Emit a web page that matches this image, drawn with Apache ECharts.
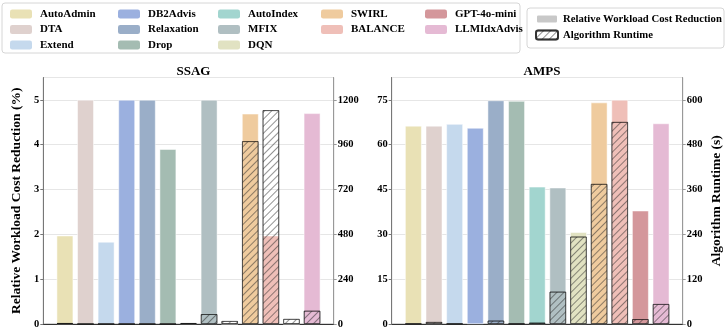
<!DOCTYPE html>
<html>
<head>
<meta charset="utf-8">
<script src="https://cdn.jsdelivr.net/npm/echarts@6/dist/echarts.min.js"></script>
<style>
body { margin: 0; background: #fff; }
#main { width: 726px; height: 334px; }
</style>
</head>
<body>
<div id="main"></div>
<script>
var methods = ['AutoAdmin', 'DTA', 'Extend', 'DB2Advis', 'Relaxation', 'Drop', 'AutoIndex',
	'MFIX', 'DQN', 'SWIRL', 'BALANCE', 'GPT-4o-mini', 'LLMIdxAdvis'];
var colors = ['#e9e1b5', '#dfd1ce', '#c5d9ed', '#9bb0df', '#9aaec8', '#a4bcb2', '#a2d5cf',
	'#b0bfc2', '#e1e2c2', '#efcb9e', '#efbfb8', '#d4979b', '#e5bad4'];

// SSAG panel
var ssagCost = [1.97, 5.0, 1.83, 5.0, 5.0, 3.90, 0.02, 5.0, 0, 4.69, 1.97, 0, 4.70];
var ssagTime = [5, 1, 1, 1, 1, 1, 5, 53, 16, 979, 1145, 27, 71];
// AMPS panel
var ampsCost = [66.3, 66.3, 66.9, 65.6, 74.8, 74.6, 45.9, 45.6, 30.7, 74.1, 75.0, 37.9, 67.1];
var ampsTime = [1, 5.4, 1, null, 9, 1, 3.6, 86.5, 234, 375, 541, 13, 53.5];

var legendCols = [['AutoAdmin', 'DTA', 'Extend'], ['DB2Advis', 'Relaxation', 'Drop'],
	['AutoIndex', 'MFIX', 'DQN'], ['SWIRL', 'BALANCE'], ['GPT-4o-mini', 'LLMIdxAdvis']];
var legendLefts = [5, 113, 213, 316, 420];

var font = "'Liberation Serif', 'Times New Roman', serif";
var hatch = {
	symbol: 'rect', symbolSize: 1, color: 'rgba(40,40,40,0.5)',
	dashArrayX: [1, 0], dashArrayY: [1, 4], rotation: -Math.PI / 4
};

function costSeries(vals, idx) {
	return {
		name: 'Relative Workload Cost Reduction', type: 'bar',
		xAxisIndex: idx, yAxisIndex: idx * 2,
		barWidth: 16.5, barGap: '-100%',
		itemStyle: { color: '#c8c8c8', borderColor: '#fff', borderWidth: 0.5 },
		data: vals.map(function (v, i) {
			return { value: [i, v], itemStyle: { color: colors[i] } };
		})
	};
}
function timeSeries(vals, idx) {
	var d = [];
	vals.forEach(function (v, i) { if (v != null) d.push([i, v]); });
	return {
		name: 'Algorithm Runtime', type: 'bar',
		xAxisIndex: idx, yAxisIndex: idx * 2 + 1,
		barWidth: 16.5, barGap: '-100%',
		itemStyle: { color: 'rgba(255,255,255,0)', borderColor: 'rgba(0,0,0,0.55)', borderWidth: 0.8, decal: hatch },
		data: d
	};
}

function xAx(gi) {
	return {
		type: 'value', gridIndex: gi, min: -1.05, max: 13.05,
		axisLine: { show: true, onZero: false, lineStyle: { color: '#333', width: 1 } },
		axisTick: { show: false }, axisLabel: { show: false }, splitLine: { show: false }
	};
}
function yAx(gi, pos, max, interval, grid, lineColor, name, gap) {
	return {
		type: 'value', gridIndex: gi, position: pos, min: 0, max: max, interval: interval,
		name: name, nameLocation: 'middle', nameGap: gap,
		nameTextStyle: { fontFamily: font, fontWeight: 'bold', fontSize: 13.5, color: '#000' },
		axisLine: { show: true, onZero: false, lineStyle: { color: lineColor } },
		axisTick: { show: true, length: 3, lineStyle: { color: lineColor } },
		axisLabel: {
			fontFamily: font, fontWeight: 'bold', fontSize: 10.5, color: '#000', margin: 4, showMaxLabel: false,
			formatter: function (v) { return String(v); }
		},
		splitLine: { show: grid, lineStyle: { color: '#e6e6e6', width: 1 } }
	};
}

var series = [costSeries(ssagCost, 0), timeSeries(ssagTime, 0),
	costSeries(ampsCost, 1), timeSeries(ampsTime, 1)];
// legend-only series on a hidden grid
methods.forEach(function (m, i) {
	series.push({ name: m, type: 'bar', xAxisIndex: 2, yAxisIndex: 4, itemStyle: { color: colors[i] }, data: [] });
});

var legends = legendCols.map(function (col, k) {
	return {
		orient: 'vertical', left: legendLefts[k], top: 3,
		itemWidth: 22, itemHeight: 9, itemGap: 3.5,
		selectedMode: false, data: col,
		textStyle: { fontFamily: font, fontWeight: 'bold', fontSize: 11, color: '#000', lineHeight: 12, padding: [0, 0, 0, 3] }
	};
});
legends.push({
	orient: 'vertical', left: 530, top: 8, itemWidth: 22, itemHeight: 9, itemGap: 4,
	selectedMode: false, data: ['Relative Workload Cost Reduction', 'Algorithm Runtime'],
	textStyle: { fontFamily: font, fontWeight: 'bold', fontSize: 10.7, color: '#000', lineHeight: 12 }
});

var chart = echarts.init(document.getElementById('main'));
chart.setOption({
	animation: false,
	backgroundColor: '#fff',
	title: [
		{ text: 'SSAG', left: 188.5, top: 60, textAlign: 'center', textStyle: { fontFamily: font, fontWeight: 'bold', fontSize: 13, color: '#000' } },
		{ text: 'AMPS', left: 537, top: 60, textAlign: 'center', textStyle: { fontFamily: font, fontWeight: 'bold', fontSize: 13, color: '#000' } }
	],
	legend: legends,
	graphic: [
		{ type: 'rect', shape: { x: 2, y: 3, width: 518, height: 50, r: 3 }, style: { fill: 'none', stroke: '#d6d6d6', lineWidth: 1 } },
		{ type: 'rect', shape: { x: 527, y: 8, width: 197, height: 40, r: 3 }, style: { fill: 'none', stroke: '#d6d6d6', lineWidth: 1 } }
	],
	grid: [
		{ left: 43.3, top: 77.5, width: 290.4, height: 246.5, show: true, borderColor: '#aaa', borderWidth: 1 },
		{ left: 391.7, top: 77.5, width: 291, height: 246.5, show: true, borderColor: '#aaa', borderWidth: 1 },
		{ left: -200, top: -200, width: 10, height: 10 }
	],
	xAxis: [xAx(0), xAx(1), { type: 'category', gridIndex: 2, show: false }],
	yAxis: [
		yAx(0, 'left', 5.5, 1, true, '#777', 'Relative Workload Cost Reduction (%)', 20),
		yAx(0, 'right', 1320, 240, false, '#999', '', 0),
		yAx(1, 'left', 82.5, 15, true, '#777', '', 0),
		yAx(1, 'right', 660, 120, false, '#999', 'Algorithm Runtime (s)', 27),
		{ type: 'value', gridIndex: 2, show: false }
	],
	series: series
});
</script>
</body>
</html>
